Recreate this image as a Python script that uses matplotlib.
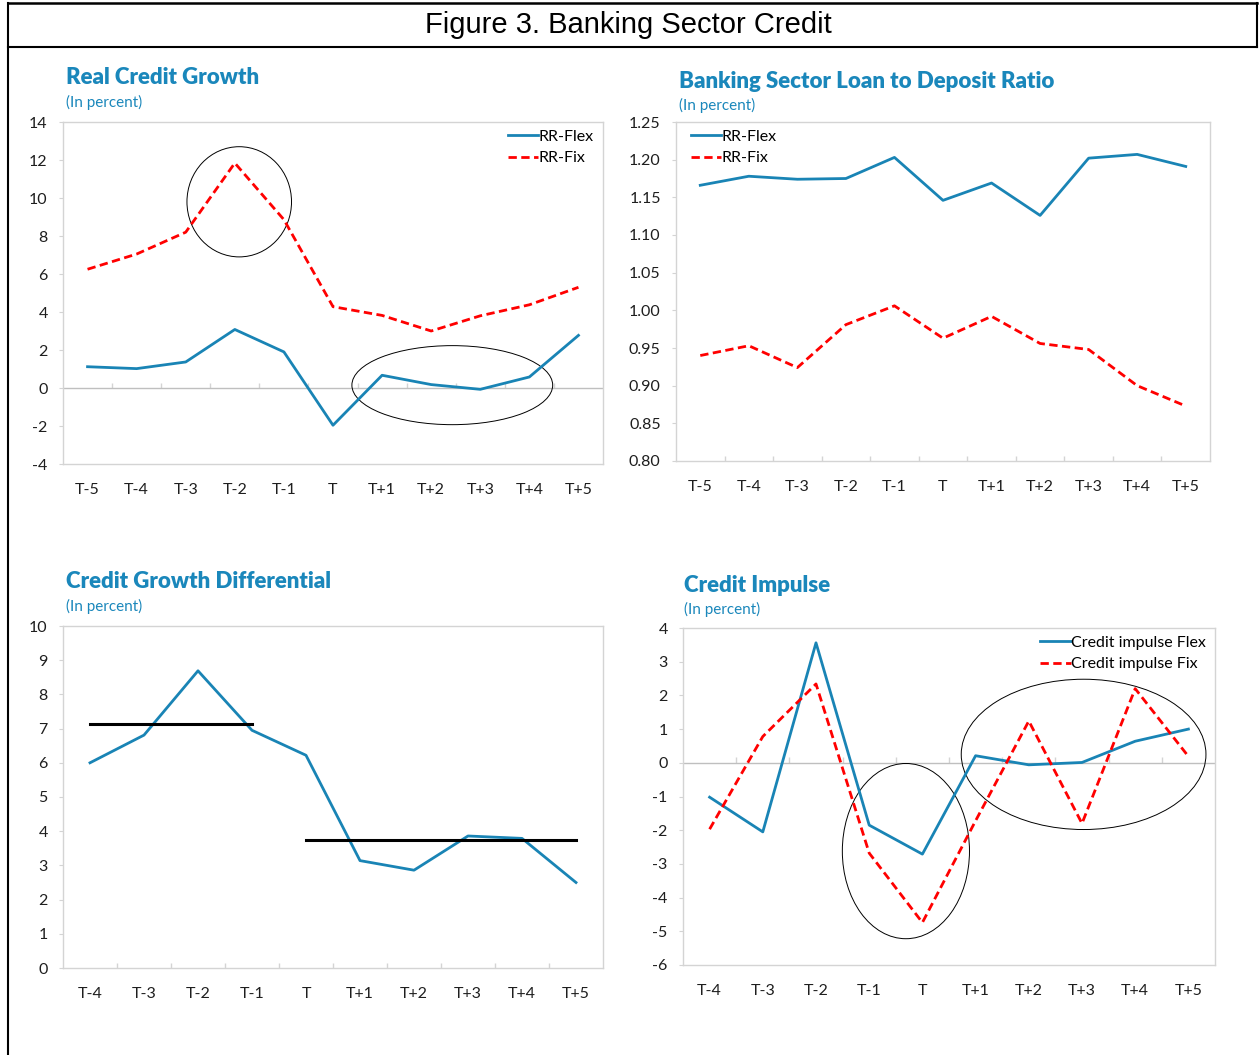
import matplotlib
matplotlib.use("Agg")
import matplotlib.pyplot as plt
from matplotlib.patches import Ellipse
from matplotlib.lines import Line2D
import numpy as np

plt.rcParams["font.family"] = ["Lato", "DejaVu Sans"]

# categories
cats11 = ["T-5", "T-4", "T-3", "T-2", "T-1", "T", "T+1", "T+2", "T+3", "T+4", "T+5"]
cats10 = ["T-4", "T-3", "T-2", "T-1", "T", "T+1", "T+2", "T+3", "T+4", "T+5"]

# real credit growth
rcg_flex = [1.12, 1.02, 1.37, 3.08, 1.9, -1.96, 0.67, 0.18, -0.07, 0.58, 2.77]
rcg_fix = [6.25, 7.05, 8.2, 11.84, 8.86, 4.28, 3.82, 3.0, 3.8, 4.38, 5.3]

# loan to deposit ratio
ldr_flex = [1.166, 1.178, 1.174, 1.175, 1.203, 1.146, 1.169, 1.126, 1.202, 1.207, 1.191]
ldr_fix = [0.940, 0.953, 0.924, 0.981, 1.006, 0.963, 0.992, 0.956, 0.948, 0.900, 0.873]

# credit growth differential
cgd = [6.0, 6.81, 8.69, 6.95, 6.22, 3.14, 2.86, 3.86, 3.79, 2.5]
cgd_avg_pre = 7.13
cgd_avg_post = 3.73

# credit impulse
ci_flex = [-1.02, -2.05, 3.56, -1.85, -2.71, 0.21, -0.06, 0.01, 0.64, 1.0]
ci_fix = [-1.97, 0.78, 2.34, -2.68, -4.74, -1.72, 1.24, -1.8, 2.2, 0.19]

BLUE = "#1984b5"
RED = "#ff0000"
TITLE = "#1a87bb"
GRID = "#d4d4d4"
TXT = "#1e1e1e"
DASH = (0, (3, 1.6))

fig = plt.figure(figsize=(12.6, 10.55), dpi=100)


def setup(ax, cats, ylim, yticks, fmt, tick_at):
    n = len(cats)
    x = np.arange(n)
    ax.set_xlim(-0.5, n - 0.5)
    ax.set_ylim(*ylim)
    ax.set_xticks(x)
    ax.set_xticklabels(cats)
    ax.tick_params(axis="x", length=0, pad=14, labelsize=11.5, labelcolor=TXT)
    ax.set_yticks(yticks)
    ax.set_yticklabels([fmt.format(v) for v in yticks])
    ax.tick_params(axis="y", length=3, color=GRID, pad=8, labelsize=11.5, labelcolor=TXT)
    for s in ax.spines.values():
        s.set_color(GRID)
        s.set_linewidth(1.0)
    # category boundary ticks
    h = (ylim[1] - ylim[0]) * 0.016
    b = np.arange(n - 1) + 0.5
    ax.vlines(b, tick_at, tick_at + h, color=GRID, lw=1.0, zorder=1)
    if tick_at != ylim[0]:
        ax.axhline(tick_at, color="#bfbfbf", lw=1.0, zorder=1)
    return x


def heading(xf, yf, title, sub):
    fig.text(xf, yf, title, fontsize=16, fontweight="heavy", color=TITLE, va="center")
    fig.text(xf, yf - 0.023, sub, fontsize=11, color=TITLE, va="center")


def legend(ax, loc, anchor):
    ax.legend(loc=loc, bbox_to_anchor=anchor, frameon=False, handlelength=1.9,
              handletextpad=0.0, labelspacing=0.45, fontsize=11.5, borderaxespad=0.2)


# header box
fig.add_artist(Line2D([8 / 1260, 1257 / 1260], [1 - 3 / 1055] * 2, color="black", lw=1.8))
fig.add_artist(Line2D([8 / 1260, 1257 / 1260], [1 - 47 / 1055] * 2, color="black", lw=1.5))
fig.add_artist(Line2D([1257 / 1260] * 2, [1 - 3 / 1055, 1 - 47 / 1055], color="black", lw=1.5))
fig.add_artist(Line2D([8 / 1260] * 2, [0, 1 - 3 / 1055], color="black", lw=1.5))
fig.text(628 / 1260, 1 - 25 / 1055, "Figure 3. Banking Sector Credit",
         fontsize=21, family="Liberation Sans", ha="center", va="center")

# panel 1
ax1 = fig.add_axes([63 / 1260, 1 - 464 / 1055, 540 / 1260, 342 / 1055])
x = setup(ax1, cats11, (-4, 14), np.arange(-4, 15, 2), "{:.0f}", 0)
ax1.plot(x, rcg_flex, color=BLUE, lw=2.0, label="RR-Flex")
ax1.plot(x, rcg_fix, color=RED, lw=2.0, ls=DASH, label="RR-Fix")
ax1.add_patch(Ellipse((3.09, 9.8), 2.13, 5.8, fill=False, ec="black", lw=0.7))
ax1.add_patch(Ellipse((7.43, 0.15), 4.09, 4.16, fill=False, ec="black", lw=0.7))
legend(ax1, "upper right", (1.0, 1.005))
heading(66 / 1260, 1 - 78 / 1055, "Real Credit Growth", "(In percent)")

# panel 2
ax2 = fig.add_axes([676 / 1260, 1 - 461 / 1055, 534 / 1260, 339 / 1055])
x = setup(ax2, cats11, (0.8, 1.25), np.arange(0.8, 1.2501, 0.05), "{:.2f}", 0.8)
ax2.plot(x, ldr_flex, color=BLUE, lw=2.0, label="RR-Flex")
ax2.plot(x, ldr_fix, color=RED, lw=2.0, ls=DASH, label="RR-Fix")
legend(ax2, "upper left", (0.01, 1.005))
heading(679 / 1260, 1 - 81 / 1055, "Banking Sector Loan to Deposit Ratio", "(In percent)")

# panel 3
ax3 = fig.add_axes([63 / 1260, 1 - 968 / 1055, 540 / 1260, 342 / 1055])
x = setup(ax3, cats10, (0, 10), np.arange(0, 11, 1), "{:.0f}", 0)
ax3.plot(x, cgd, color=BLUE, lw=2.0)
ax3.plot([x[0], x[3]], [cgd_avg_pre] * 2, color="black", lw=2.2)
ax3.plot([x[4], x[9]], [cgd_avg_post] * 2, color="black", lw=2.2)
heading(66 / 1260, 1 - 582 / 1055, "Credit Growth Differential", "(In percent)")

# panel 4
ax4 = fig.add_axes([683 / 1260, 1 - 965 / 1055, 532 / 1260, 337 / 1055])
x = setup(ax4, cats10, (-6, 4), np.arange(-6, 5, 1), "{:.0f}", 0)
ax4.plot(x, ci_flex, color=BLUE, lw=2.0, label="Credit impulse Flex")
ax4.plot(x, ci_fix, color=RED, lw=2.0, ls=DASH, label="Credit impulse Fix")
ax4.add_patch(Ellipse((3.69, -2.62), 2.39, 5.2, fill=False, ec="black", lw=0.7))
ax4.add_patch(Ellipse((7.03, 0.25), 4.6, 4.46, fill=False, ec="black", lw=0.7))
legend(ax4, "upper right", (1.0, 1.005))
heading(684 / 1260, 1 - 585 / 1055, "Credit Impulse", "(In percent)")

fig.savefig("out.png", dpi=100)
